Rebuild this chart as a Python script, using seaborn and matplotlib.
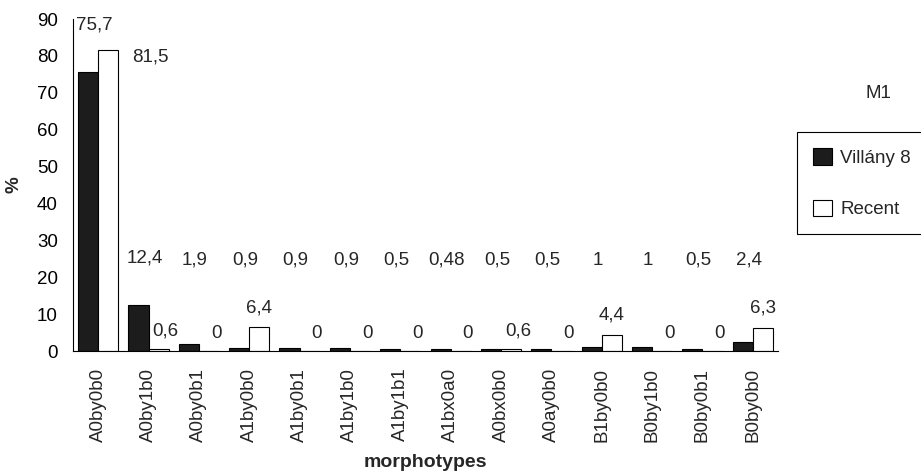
import numpy as np
import pandas as pd
import matplotlib
matplotlib.use("Agg")
import matplotlib.pyplot as plt
import seaborn as sns
from matplotlib.patches import Patch
from matplotlib.ticker import FixedLocator

categories = ["A0by0b0", "A0by1b0", "A0by0b1", "A1by0b0", "A1by0b1", "A1by1b0",
              "A1by1b1", "A1bx0a0", "A0bx0b0", "A0ay0b0", "B1by0b0", "B0by1b0",
              "B0by0b1", "B0by0b0"]
villany = [75.7, 12.4, 1.9, 0.9, 0.9, 0.9, 0.5, 0.48, 0.5, 0.5, 1, 1, 0.5, 2.4]
recent = [81.5, 0.6, 0, 6.4, 0, 0, 0, 0, 0.6, 0, 4.4, 0, 0, 6.3]
series_names = ["Villány 8", "Recent"]
y_ticks = list(range(0, 91, 10))

df = pd.DataFrame({
    "morphotype": categories * 2,
    "value": villany + recent,
    "series": [series_names[0]] * len(categories) + [series_names[1]] * len(categories),
})

sns.set_style("white")
plt.rcParams["font.family"] = ["Liberation Sans", "DejaVu Sans"]
FS = 13.5

fig = plt.figure(figsize=(9.21, 4.72), dpi=100)
ax = fig.add_axes([73 / 921, 1 - 351 / 472, (778 - 73) / 921, (351 - 19) / 472])

colors = {series_names[0]: "#1c1c1c", series_names[1]: "white"}
sns.barplot(data=df, x="morphotype", y="value", hue="series", order=categories,
            hue_order=series_names, palette=colors, edgecolor="black", linewidth=0.8,
            width=0.8, errorbar=None, legend=False, ax=ax)

ax.set_ylim(0, 90)
ax.set_xlim(-0.5, len(categories) - 0.5)
ax.set_yticks(y_ticks)
ax.set_yticklabels([str(t) for t in y_ticks], fontsize=FS)
ax.tick_params(axis="y", direction="inout", length=6, width=0.8, pad=8, colors="black")
ax.set_xticks(range(len(categories)))
ax.set_xticklabels(categories, rotation=90, fontsize=FS, va="top")
ax.tick_params(axis="x", which="major", length=0, pad=12)
ax.xaxis.set_minor_locator(FixedLocator(np.arange(-0.5, len(categories), 1.0)))
ax.tick_params(axis="x", which="minor", direction="inout", length=7, width=0.8, colors="black")

for s in ["top", "right"]:
    ax.spines[s].set_visible(False)
for s in ["left", "bottom"]:
    ax.spines[s].set_color("black")
    ax.spines[s].set_linewidth(0.8)

ax.set_ylabel("%", fontsize=FS, fontweight="bold")
ax.yaxis.set_label_coords(-0.072, 0.5)
ax.set_xlabel("morphotypes", fontsize=14, fontweight="bold", va="top")
ax.xaxis.set_label_coords(0.5, -0.31)


def fmt(v):
    return f"{v:g}".replace(".", ",")


# value labels
vmax = max(recent)
for bar, v in zip(ax.containers[0], villany):
    cx = bar.get_x() + bar.get_width() / 2 + 0.12
    ax.text(cx, max(v + 10.5, 22.3), fmt(v), ha="center", va="bottom", fontsize=FS)
for bar, v in zip(ax.containers[1], recent):
    cx = bar.get_x() + bar.get_width() / 2
    if v == vmax:
        ax.text(cx + 0.83, v - 1.8, fmt(v), ha="center", va="center", fontsize=FS)
    elif v > 1:
        ax.text(cx, v + 3, fmt(v), ha="center", va="bottom", fontsize=FS)
    else:
        ax.text(cx + 0.14, v + 2.5, fmt(v), ha="center", va="bottom", fontsize=FS)

handles = [Patch(facecolor=colors[n], edgecolor="black", linewidth=0.8) for n in series_names]
leg = ax.legend(handles, series_names, loc="upper left",
                bbox_to_anchor=(797 / 921, 1 - 132 / 472), bbox_transform=fig.transFigure,
                fontsize=FS, frameon=True, fancybox=False, framealpha=1, edgecolor="black",
                handlelength=1.0, handleheight=1.0, handletextpad=0.45, labelspacing=1.75,
                borderpad=0.85, borderaxespad=0)
leg.get_frame().set_linewidth(0.8)

fig.text(878 / 921, 1 - 93 / 472, "M1", ha="center", va="center", fontsize=FS)

fig.savefig("out.png", dpi=100)
